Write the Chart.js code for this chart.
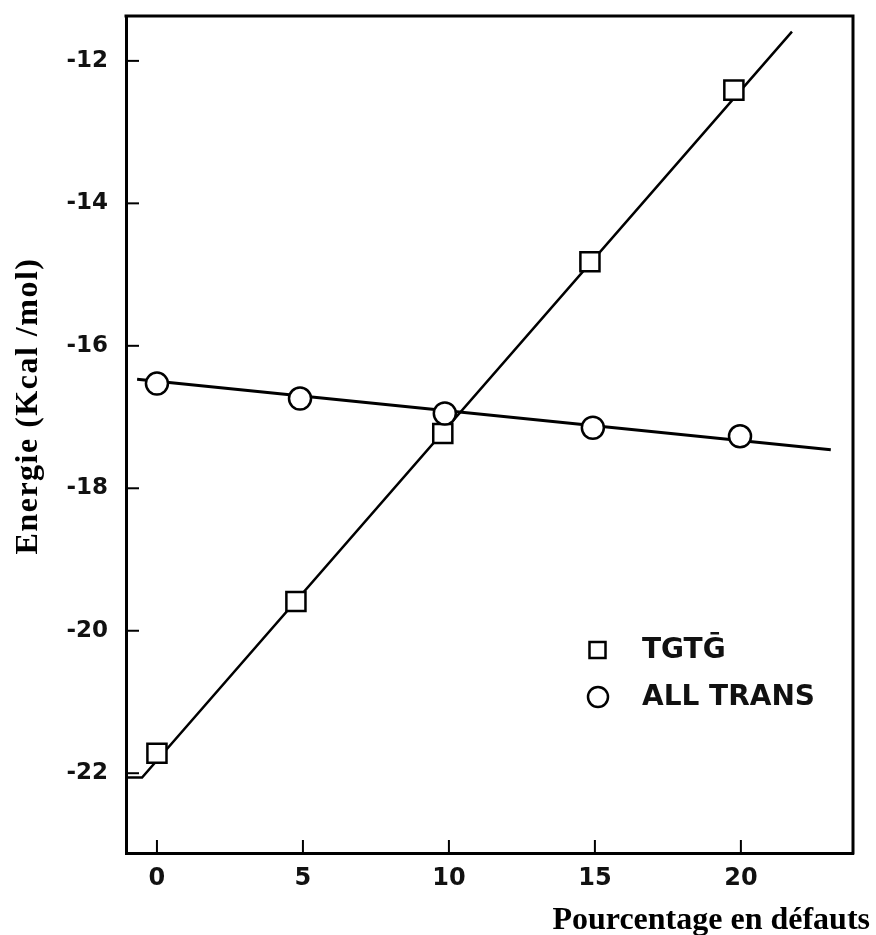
<!DOCTYPE html>
<html>
<head>
<meta charset="utf-8">
<script src="https://cdn.jsdelivr.net/npm/chart.js@4.4.1/dist/chart.umd.min.js"></script>
<style>
  html, body { margin: 0; padding: 0; background: #fff; }
  #wrap { width: 876px; height: 935px; position: relative; }
</style>
</head>
<body>
<div id="wrap"><canvas id="c" width="876" height="935"></canvas></div>
<script>
// ---- data ----
const xTicks = [0, 5, 10, 15, 20];
const yTicks = [-22, -20, -18, -16, -14, -12];

const tgtgX = [0, 4.76, 9.79, 14.83, 19.76];
const tgtgY = [-21.72, -19.59, -17.23, -14.82, -12.41];

const transX = [0, 4.9, 9.86, 14.93, 19.97];
const transY = [-16.53, -16.74, -16.95, -17.15, -17.27];

// fitted lines drawn in the figure
const tgtgFitX = [-1.06, -0.51, 21.75];
const tgtgFitY = [-22.06, -22.06, -11.59];
const transFitX = [-0.68, 23.08];
const transFitY = [-16.47, -17.46];

const seriesNames = ['TGT\u1E20', 'ALL TRANS'];
const yTitle = 'Energie (Kcal /mol)';
const xTitle = 'Pourcentage en d\u00e9fauts';

const pts = (xs, ys) => xs.map((x, i) => ({ x: x, y: ys[i] }));

const decor = {
  id: 'decor',
  afterDraw(chart) {
    const ctx = chart.ctx;
    const a = chart.chartArea;
    const xs = chart.scales.x, ys = chart.scales.y;
    ctx.save();
    ctx.strokeStyle = '#000';
    ctx.lineCap = 'square';
    // top and right frame
    ctx.lineWidth = 3;
    ctx.beginPath();
    ctx.moveTo(a.left, a.top);
    ctx.lineTo(a.right, a.top);
    ctx.lineTo(a.right, a.bottom);
    ctx.stroke();
    // inward tick marks
    ctx.lineWidth = 2;
    ctx.lineCap = 'butt';
    yTicks.forEach(v => {
      const py = ys.getPixelForValue(v);
      ctx.beginPath(); ctx.moveTo(a.left, py); ctx.lineTo(a.left + 13, py); ctx.stroke();
    });
    xTicks.forEach(v => {
      const px = xs.getPixelForValue(v);
      ctx.beginPath(); ctx.moveTo(px, a.bottom); ctx.lineTo(px, a.bottom - 13); ctx.stroke();
    });
    // axis titles
    ctx.fillStyle = '#000';
    ctx.font = 'bold 32px "Liberation Serif", "Times New Roman", serif';
    ctx.textAlign = 'right';
    ctx.textBaseline = 'alphabetic';
    ctx.fillText(xTitle, 870, 929);
    ctx.save();
    ctx.translate(37, 406);
    ctx.rotate(-Math.PI / 2);
    ctx.textAlign = 'center';
    ctx.letterSpacing = '1.5px';
    ctx.fillText(yTitle, 0, 0);
    ctx.restore();
    // legend
    ctx.lineWidth = 2.5;
    ctx.strokeStyle = '#000';
    ctx.strokeRect(589.5, 642, 16, 16);
    ctx.beginPath(); ctx.arc(598, 697, 10, 0, Math.PI * 2); ctx.stroke();
    ctx.font = 'bold 28px "DejaVu Sans", Arial, sans-serif';
    ctx.textAlign = 'left';
    ctx.fillStyle = '#111';
    ctx.fillText(seriesNames[0], 642, 658);
    ctx.fillText(seriesNames[1], 642, 705);
    ctx.restore();
  }
};

new Chart(document.getElementById('c'), {
  type: 'scatter',
  data: {
    datasets: [
      {
        label: 'TGTG fit', type: 'line', data: pts(tgtgFitX, tgtgFitY),
        borderColor: '#000', borderWidth: 2.5, pointRadius: 0, fill: false, tension: 0, order: 3
      },
      {
        label: 'ALL TRANS fit', type: 'line', data: pts(transFitX, transFitY),
        borderColor: '#000', borderWidth: 3, pointRadius: 0, fill: false, tension: 0, order: 3
      },
      {
        label: seriesNames[0], data: pts(tgtgX, tgtgY),
        pointStyle: 'rect', pointRadius: 13.5, pointBorderWidth: 2.5,
        pointBackgroundColor: '#fff', pointBorderColor: '#000', order: 2
      },
      {
        label: seriesNames[1], data: pts(transX, transY),
        pointStyle: 'circle', pointRadius: 11, pointBorderWidth: 2.5,
        pointBackgroundColor: '#fff', pointBorderColor: '#000', order: 1
      }
    ]
  },
  options: {
    responsive: false,
    animation: false,
    devicePixelRatio: 1,
    layout: { padding: { top: 15, right: 23, left: 0, bottom: 0 } },
    plugins: { legend: { display: false }, tooltip: { enabled: false } },
    scales: {
      x: {
        type: 'linear', min: -1.06, max: 23.84,
        afterFit: s => { s.height = 82; s.paddingLeft = 0; s.paddingRight = 0; },
        afterBuildTicks: s => { s.ticks = xTicks.map(v => ({ value: v })); },
        grid: { display: false, drawTicks: false },
        border: { display: true, color: '#000', width: 3 },
        ticks: {
          padding: 11, color: '#111', maxRotation: 0, autoSkip: false,
          font: { family: '"DejaVu Sans", Arial, sans-serif', size: 24, weight: 'bold' },
          callback: v => String(v)
        }
      },
      y: {
        type: 'linear', min: -23.12, max: -11.37,
        afterFit: s => { s.width = 126; s.paddingTop = 0; s.paddingBottom = 0; },
        afterBuildTicks: s => { s.ticks = yTicks.map(v => ({ value: v })); },
        grid: { display: false, drawTicks: false },
        border: { display: true, color: '#000', width: 3 },
        ticks: {
          padding: 18, color: '#111', autoSkip: false,
          font: { family: '"DejaVu Sans", Arial, sans-serif', size: 23, weight: 'bold' },
          callback: v => String(v)
        }
      }
    }
  },
  plugins: [decor]
});
</script>
</body>
</html>
